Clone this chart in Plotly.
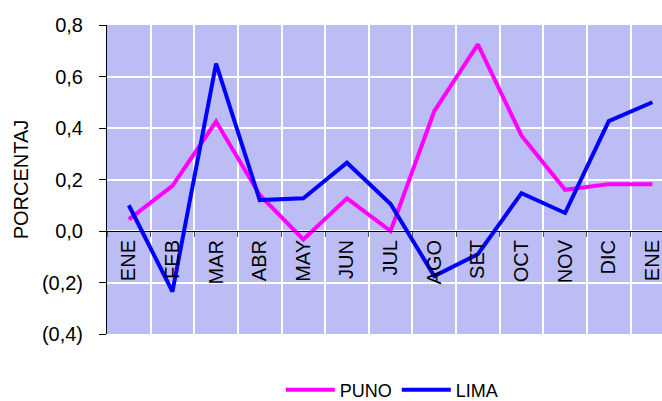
import plotly.graph_objects as go

months = ["ENE", "FEB", "MAR", "ABR", "MAY", "JUN", "JUL", "AGO", "SET", "OCT", "NOV", "DIC", "ENE"]
puno = [0.045, 0.175, 0.425, 0.14, -0.033, 0.127, 0.0, 0.465, 0.725, 0.37, 0.16, 0.182, 0.182]
lima = [0.10, -0.235, 0.65, 0.12, 0.127, 0.265, 0.105, -0.175, -0.09, 0.147, 0.07, 0.427, 0.50]
y_ticks = [-0.4, -0.2, 0.0, 0.2, 0.4, 0.6, 0.8]
y_labels = ["(0,4)", "(0,2)", "0,0", "0,2", "0,4", "0,6", "0,8"]

xpos = list(range(len(months)))
FONT = "Liberation Sans, Arial, sans-serif"

fig = go.Figure()
fig.add_trace(go.Scatter(x=xpos, y=puno, mode="lines", name="PUNO",
                         line=dict(color="#FF00FF", width=4)))
fig.add_trace(go.Scatter(x=xpos, y=lima, mode="lines", name="LIMA",
                         line=dict(color="#0000FF", width=4)))

fig.update_layout(
    width=662, height=401,
    margin=dict(l=107, r=0, t=25, b=67, autoexpand=False),
    paper_bgcolor="white",
    plot_bgcolor="#BDBDF6",
    font=dict(family=FONT, size=20, color="black"),
    showlegend=True,
    legend=dict(orientation="h", x=0.514, xanchor="center", y=-0.181, yanchor="middle",
                itemwidth=49,
                font=dict(size=18), bgcolor="rgba(0,0,0,0)"),
    xaxis=dict(
        range=[-0.5, 12.22], automargin=False,
        tickmode="array", tickvals=xpos, ticktext=months,
        tickangle=-90, ticks="", showgrid=False, zeroline=False,
        showline=True, linecolor="black", linewidth=1,
        anchor="free", position=1/3,
        ticklabeloverflow="allow",
        tickfont=dict(size=20),
        minor=dict(tick0=0.5, dtick=1, showgrid=True, gridcolor="white", gridwidth=2,
                   ticks="outside", ticklen=5, tickcolor="#555555", tickwidth=1),
    ),
    yaxis=dict(
        range=[-0.4, 0.8], domain=[0, 1], automargin=False,
        tickmode="array", tickvals=y_ticks, ticktext=y_labels,
        showgrid=True, gridcolor="white", gridwidth=2, zeroline=False,
        showline=True, linecolor="black", linewidth=1,
        ticks="outside", ticklen=7, tickcolor="black",
        ticklabelstandoff=12,
        tickfont=dict(size=20),
        title=dict(text="PORCENTAJ", font=dict(size=20), standoff=7),
    ),
)

fig.write_html("out.html", config={"displayModeBar": False},
               post_script="document.body.style.margin='0';document.body.style.overflow='hidden';")
